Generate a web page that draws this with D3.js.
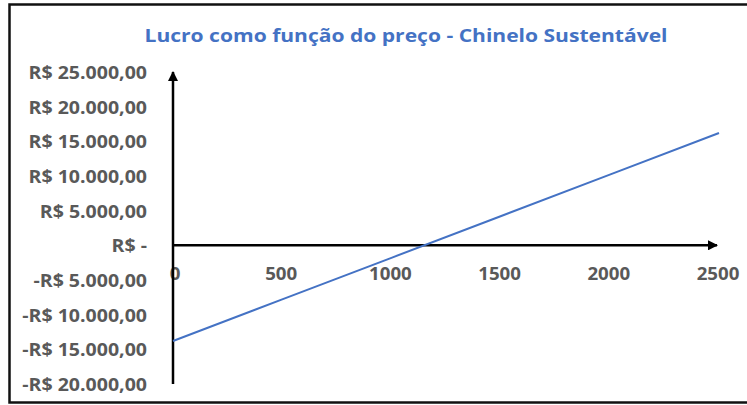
<!DOCTYPE html>
<html>
<head>
<meta charset="utf-8">
<script src="https://cdn.jsdelivr.net/npm/d3@7"></script>
<style>
  html, body { margin: 0; padding: 0; background: #fff; }
  svg { display: block; }
</style>
</head>
<body>
<svg id="chart" width="747" height="405"></svg>
<script>
// Preço (R$) e lucro correspondente
const precos = [0, 500, 1000, 1500, 2000, 2500];
const lucros = [-13800, -7800, -1800, 4200, 10200, 16200];

const xTicks = [0, 500, 1000, 1500, 2000, 2500];
const yTicks = [25000, 20000, 15000, 10000, 5000, 0, -5000, -10000, -15000, -20000];
const yTickLabels = ["R$ 25.000,00", "R$ 20.000,00", "R$ 15.000,00", "R$ 10.000,00", "R$ 5.000,00",
                     "R$ -", "-R$ 5.000,00", "-R$ 10.000,00", "-R$ 15.000,00", "-R$ 20.000,00"];
const titulo = "Lucro como função do preço - Chinelo Sustentável";

const svg = d3.select("#chart");
const W = 747, H = 405;

svg.append("rect").attr("width", W).attr("height", H).attr("fill", "#fff");
// moldura
svg.append("rect")
  .attr("x", 9.5).attr("y", 4.5).attr("width", 760).attr("height", 398)
  .attr("fill", "none").attr("stroke", "#111").attr("stroke-width", 2.5);

const x = d3.scaleLinear().domain([0, 2500]).range([173, 719]);
const y = d3.scaleLinear().domain([-20000, 25000]).range([384, 72]);

const defs = svg.append("defs");
defs.append("marker")
  .attr("id", "seta").attr("viewBox", "0 0 10 10")
  .attr("refX", 9).attr("refY", 5)
  .attr("markerWidth", 4).attr("markerHeight", 4)
  .attr("markerUnits", "strokeWidth")
  .attr("orient", "auto")
  .append("path").attr("d", "M0,0 L10,5 L0,10 Z").attr("fill", "#000");

const fontFam = "'Open Sans', 'Liberation Sans', sans-serif";

// título
svg.append("text")
  .attr("transform", "translate(406,35) scale(1.17,1)")
  .attr("text-anchor", "middle").attr("dominant-baseline", "central")
  .attr("font-family", fontFam).attr("font-weight", 700)
  .attr("font-size", 18).attr("fill", "#4472C4")
  .text(titulo);

// rótulos do eixo Y
svg.append("g").selectAll("text")
  .data(yTicks)
  .join("text")
  .attr("transform", d => `translate(147,${y(d)}) scale(1.15,1)`)
  .attr("text-anchor", "end").attr("dominant-baseline", "central")
  .attr("font-family", fontFam).attr("font-weight", 700)
  .attr("font-size", 17).attr("fill", "#595959")
  .text((d, i) => yTickLabels[i]);

// rótulos do eixo X
svg.append("g").selectAll("text")
  .data(xTicks)
  .join("text")
  .attr("transform", d => `translate(${x(d) + (d === 0 ? 2 : -1)},${y(0) + 28}) scale(1.1,1)`)
  .attr("text-anchor", "middle").attr("dominant-baseline", "central")
  .attr("font-family", fontFam).attr("font-weight", 700)
  .attr("font-size", 17).attr("fill", "#595959")
  .text(d => d);

// eixos com setas
svg.append("line")
  .attr("x1", x(0)).attr("x2", x(0))
  .attr("y1", y(-20000)).attr("y2", y(25000))
  .attr("stroke", "#000").attr("stroke-width", 2.5)
  .attr("marker-end", "url(#seta)");

svg.append("line")
  .attr("x1", x(0)).attr("x2", x(2500) - 2)
  .attr("y1", y(0)).attr("y2", y(0))
  .attr("stroke", "#000").attr("stroke-width", 2.5)
  .attr("marker-end", "url(#seta)");

// série
const linha = d3.line().x((d, i) => x(precos[i])).y(d => y(d));
svg.append("path")
  .datum(lucros)
  .attr("d", linha)
  .attr("fill", "none")
  .attr("stroke", "#4472C4").attr("stroke-width", 2);
</script>
</body>
</html>
